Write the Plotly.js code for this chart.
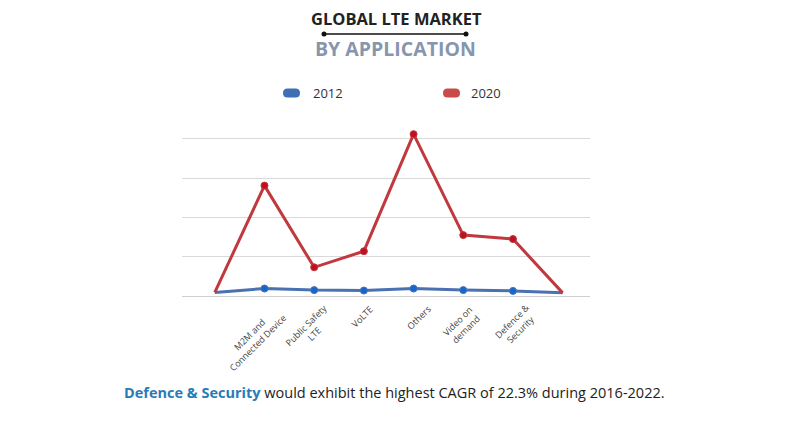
<!DOCTYPE html>
<html>
<head>
<meta charset="utf-8">
<script src="https://cdn.plot.ly/plotly-3.0.1.min.js"></script>
<style>html,body{margin:0;padding:0;background:#fff;}#chart{width:790px;height:421px;}</style>
</head>
<body>
<div id="chart"></div>
<script>
// Categories (first and last positions are unlabeled line anchors)
const categories = ["", "M2M and<br>Connected Device", "Public Safety<br>LTE", "VoLTE", "Others", "Video on<br>demand", "Defence &<br>Security", ""];
const positions = [0, 1, 2, 3, 4, 5, 6, 7];
const values2012 = [0.09, 0.19, 0.15, 0.14, 0.19, 0.15, 0.13, 0.08];
const values2020 = [0.09, 2.81, 0.73, 1.14, 4.12, 1.55, 1.45, 0.08];
const markerSizes = [0, 7, 7, 7, 7, 7, 7, 0];
const seriesNames = ["2012", "2020"];

const traces = [
  {
    x: positions, y: values2012, name: seriesNames[0], type: "scatter", mode: "lines+markers",
    line: {color: "#4a72b0", width: 3},
    marker: {color: "#1766cc", size: markerSizes, opacity: 1},
    cliponaxis: false, hoverinfo: "y"
  },
  {
    x: positions, y: values2020, name: seriesNames[1], type: "scatter", mode: "lines+markers",
    line: {color: "#c0393e", width: 3},
    marker: {color: "#bf0f20", size: markerSizes, opacity: 1},
    cliponaxis: false, hoverinfo: "y"
  }
];

const W = 790, H = 421;
const L = 182, R = 200, T = 131, B = 125;
const pw = W - L - R, ph = H - T - B;
// helpers to convert pixel coords to paper coords
const px = x => (x - L) / pw;
const py = y => (H - B - y) / ph;

function pillPath(x0, x1, yc, color) {
  const r = 4.5;
  const a = px(x0 + r), b = px(x1 - r);
  const top = py(yc - r), bot = py(yc + r);
  const left = px(x0), right = px(x1);
  const mid = py(yc);
  return {
    type: "path", xref: "paper", yref: "paper", layer: "above",
    path: `M ${a} ${top} L ${b} ${top} Q ${right} ${top} ${right} ${mid} Q ${right} ${bot} ${b} ${bot} L ${a} ${bot} Q ${left} ${bot} ${left} ${mid} Q ${left} ${top} ${a} ${top} Z`,
    fillcolor: color, line: {width: 0}
  };
}

// rotated category labels (placement styling only)
const labelShiftX = [0, -10.5, -4, -2, 5, -2, 3, 0];
const labelCenterY = [0, 338.5, 329, 316, 317, 325, 325, 0];
const labelAnnotations = [];
for (let i = 1; i < categories.length - 1; i++) {
  labelAnnotations.push({
    text: categories[i], xref: "x", yref: "paper", x: positions[i], y: py(labelCenterY[i]),
    xshift: labelShiftX[i], xanchor: "center", yanchor: "middle", showarrow: false,
    textangle: -45, align: "center",
    font: {family: "Open Sans, sans-serif", size: 9, color: "#444"}
  });
}

const layout = {
  width: W, height: H,
  margin: {l: L, r: R, t: T, b: B},
  paper_bgcolor: "#ffffff", plot_bgcolor: "#ffffff",
  showlegend: false,
  font: {family: "Open Sans, sans-serif", color: "#333"},
  xaxis: {
    range: [-0.66, 7.55],
    tickvals: positions.slice(1, 7),
    showticklabels: false,
    showgrid: false, zeroline: false, showline: false, ticks: "",
    fixedrange: true
  },
  yaxis: {
    range: [0, 4.2],
    dtick: 1,
    showticklabels: false,
    showgrid: true, gridcolor: "#d9d9d9", gridwidth: 1,
    zeroline: true, zerolinecolor: "#d0d0d0", zerolinewidth: 1,
    showline: false, ticks: "",
    fixedrange: true
  },
  shapes: [
    // decorative rule under the title, with end dots
    {type: "line", xref: "paper", yref: "paper", x0: px(324), x1: px(466), y0: py(34), y1: py(34), line: {color: "#111", width: 1.5}},
    {type: "circle", xref: "paper", yref: "paper", x0: px(321.5), x1: px(326.5), y0: py(36.5), y1: py(31.5), fillcolor: "#111", line: {width: 0}},
    {type: "circle", xref: "paper", yref: "paper", x0: px(463.5), x1: px(468.5), y0: py(36.5), y1: py(31.5), fillcolor: "#111", line: {width: 0}},
    pillPath(283, 300, 93, "#3e6fb5"),
    pillPath(443, 460, 93, "#c94a4a")
  ],
  annotations: [
    {text: "<b>GLOBAL LTE MARKET</b>", xref: "paper", yref: "paper", x: px(396), y: py(18), xanchor: "center", yanchor: "middle", showarrow: false,
      font: {family: "Open Sans, sans-serif", size: 16.5, color: "#222"}},
    {text: "<b>BY APPLICATION</b>", xref: "paper", yref: "paper", x: px(395), y: py(49), xanchor: "center", yanchor: "middle", showarrow: false,
      font: {family: "Open Sans, sans-serif", size: 19.5, color: "#8796ad"}},
    {text: seriesNames[0], xref: "paper", yref: "paper", x: px(311), y: py(93), xanchor: "left", yanchor: "middle", showarrow: false,
      font: {size: 13, color: "#333"}},
    {text: seriesNames[1], xref: "paper", yref: "paper", x: px(469), y: py(93), xanchor: "left", yanchor: "middle", showarrow: false,
      font: {size: 13, color: "#333"}},
    {text: "<b><span style=\"color:#2a7ab8\">Defence & Security</span></b> would exhibit the highest CAGR of 22.3% during 2016-2022.",
      xref: "paper", yref: "paper", x: px(394), y: py(392), xanchor: "center", yanchor: "middle", showarrow: false,
      font: {family: "Open Sans, sans-serif", size: 14.5, color: "#222"}}
  ].concat(labelAnnotations)
};

Plotly.newPlot("chart", traces, layout, {displayModeBar: false, staticPlot: true});
</script>
</body>
</html>
